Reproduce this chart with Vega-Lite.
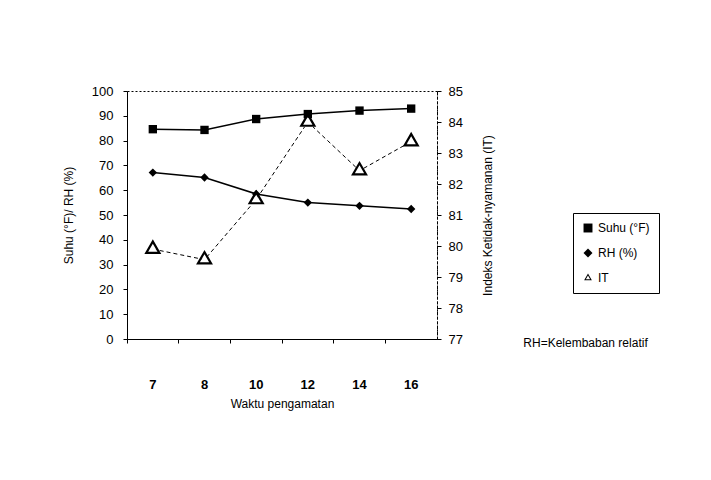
{
  "$schema": "https://vega.github.io/schema/vega-lite/v6.json",
  "width": 310,
  "height": 248,
  "autosize": {"type": "none"},
  "padding": {"left": 127, "top": 91, "right": 274, "bottom": 141},
  "background": "white",
  "title": {"text": "RH=Kelembaban relatif", "anchor": "start", "orient": "top", "dx": 461, "dy": 274, "fontSize": 12, "fontWeight": "normal", "color": "black", "font": "Liberation Sans", "baseline": "middle"},
  "data": {
    "values": [
      {"x": "7", "series": "Suhu (°F)", "value": 84.6},
      {"x": "8", "series": "Suhu (°F)", "value": 84.3},
      {"x": "10", "series": "Suhu (°F)", "value": 88.7},
      {"x": "12", "series": "Suhu (°F)", "value": 90.7},
      {"x": "14", "series": "Suhu (°F)", "value": 92.1},
      {"x": "16", "series": "Suhu (°F)", "value": 92.9},
      {"x": "7", "series": "RH (%)", "value": 67.1},
      {"x": "8", "series": "RH (%)", "value": 65.1},
      {"x": "10", "series": "RH (%)", "value": 58.5},
      {"x": "12", "series": "RH (%)", "value": 55.0},
      {"x": "14", "series": "RH (%)", "value": 53.7},
      {"x": "16", "series": "RH (%)", "value": 52.4},
      {"x": "7", "series": "IT", "value": 79.9},
      {"x": "8", "series": "IT", "value": 79.56},
      {"x": "10", "series": "IT", "value": 81.5},
      {"x": "12", "series": "IT", "value": 84.0},
      {"x": "14", "series": "IT", "value": 82.43},
      {"x": "16", "series": "IT", "value": 83.37}
    ]
  },
  "encoding": {
    "x": {
      "field": "x", "type": "ordinal", "sort": ["7", "8", "10", "12", "14", "16"],
      "scale": {"type": "band", "paddingInner": 0, "paddingOuter": 0},
      "axis": {"labelAngle": 0, "bandPosition": 0, "labelPadding": 35, "title": "Waktu pengamatan", "titlePadding": 7, "labelFontSize": 13, "labelFontWeight": "bold"}
    }
  },
  "layer": [
    {
      "transform": [{"filter": "datum.series != 'IT'"}],
      "encoding": {
        "y": {"field": "value", "type": "quantitative", "scale": {"domain": [0, 100]},
          "axis": {"values": [0,10,20,30,40,50,60,70,80,90,100], "title": "Suhu (°F)/ RH (%)", "labelPadding": 10, "titlePadding": 16, "labelFontSize": 13}}
      },
      "layer": [
        {"mark": {"type": "line", "color": "black", "strokeWidth": 1.5},
         "encoding": {"detail": {"field": "series", "type": "nominal"}}},
        {"mark": {"type": "point", "filled": true, "color": "black", "size": 70, "opacity": 1},
         "encoding": {
           "shape": {"field": "series", "type": "nominal", "title": null,
             "scale": {"domain": ["Suhu (°F)", "RH (%)", "IT"], "range": ["square", "diamond", "M0,-1L0.866,0.5L-0.866,0.5Z M0,-0.55L-0.476,0.275L0.476,0.275Z"]}}
         }}
      ]
    },
    {
      "transform": [{"filter": "datum.series == 'IT'"}],
      "encoding": {
        "y": {"field": "value", "type": "quantitative", "scale": {"domain": [77, 85]},
          "axis": {"orient": "right", "values": [77,78,79,80,81,82,83,84,85], "title": "Indeks Ketidak-nyamanan (IT)", "titleAngle": 270, "titleX": 50, "titleY": 124, "titleAlign": "center", "titleBaseline": "middle", "labelPadding": 7, "labelFontSize": 13, "domainDash": [3, 2]}}
      },
      "layer": [
        {"mark": {"type": "line", "color": "black", "strokeWidth": 1, "strokeDash": [4, 3]}},
        {"mark": {"type": "point", "shape": "triangle-up", "filled": true, "color": "white", "size": 140, "opacity": 1}},
        {"mark": {"type": "point", "filled": true, "color": "black", "size": 380, "opacity": 1},
         "encoding": {
           "shape": {"field": "series", "type": "nominal", "title": null}
         }}
      ]
    }
  ],
  "resolve": {"scale": {"y": "independent"}},
  "config": {
    "font": "Liberation Sans",
    "view": {"stroke": "black", "strokeDash": [2, 2], "strokeWidth": 1},
    "axis": {"labelFont": "Liberation Sans", "labelColor": "black", "titleColor": "black", "titleFont": "Liberation Sans", "titleFontSize": 12, "titleFontWeight": "normal", "domainColor": "black", "tickColor": "black", "grid": false, "tickSize": 4},
    "legend": {"orient": "none", "legendX": 446, "legendY": 122, "strokeColor": "black", "fillColor": "white", "padding": 9, "labelFontSize": 12, "labelColor": "black", "labelFont": "Liberation Sans", "rowPadding": 9, "symbolSize": 80}
  }
}
